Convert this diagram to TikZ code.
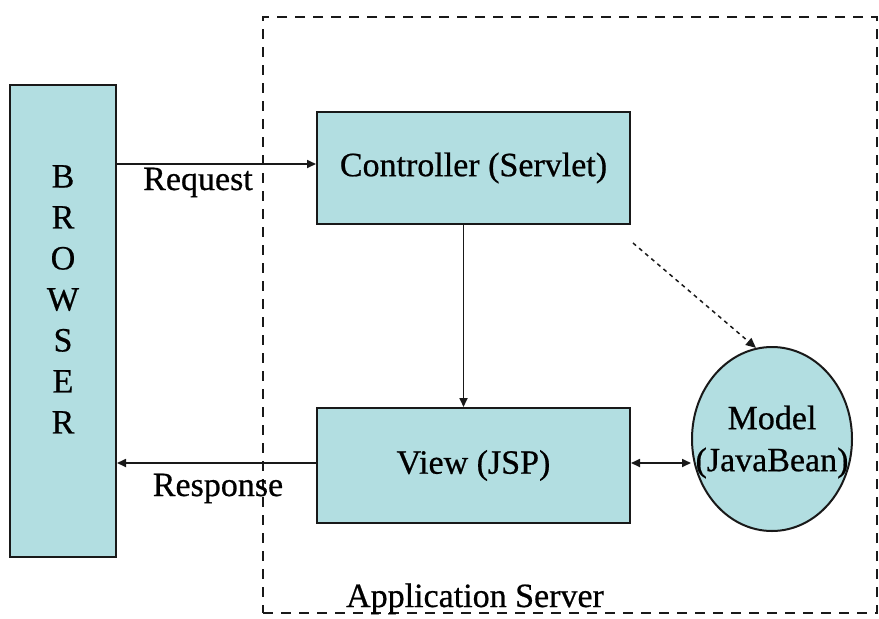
\documentclass[tikz,border=0pt]{standalone}
\usepackage{fontspec}
\setmainfont{Liberation Serif}[FakeBold=0.6]
\usetikzlibrary{arrows.meta,shapes.geometric}
\definecolor{boxfill}{RGB}{178,222,225}
\definecolor{boxline}{RGB}{25,25,25}
\tikzset{
  box/.style={draw=boxline, fill=boxfill, line width=2pt, rectangle, inner sep=0pt,
              font=\fontsize{34}{40}\selectfont},
  lbl/.style={inner sep=0pt, font=\fontsize{34}{40}\selectfont},
  arr/.style={draw=boxline, line width=1.7pt, -{Triangle[length=9pt,width=8pt]}},
  darr/.style={draw=boxline, line width=1.7pt, {Triangle[length=9pt,width=8pt]}-{Triangle[length=9pt,width=8pt]}},
  dotarr/.style={draw=boxline, line width=1.5pt, dash pattern=on 4pt off 4pt, -{Triangle[length=10pt,width=9pt]}},
  frame/.style={draw=boxline, line width=2pt, dash pattern=on 10pt off 8pt, rectangle, inner sep=0pt}
}
\begin{document}
\begin{tikzpicture}[x=1pt,y=-1pt]
\useasboundingbox (0,0) rectangle (879,619);
% application server frame
\node[frame, minimum width=614pt, minimum height=596pt] (frame) at (570,315) {};
% browser
\node[box, minimum width=106pt, minimum height=472pt] (browser) at (63,321) {};
\node[lbl, align=center, anchor=north, font=\fontsize{34}{41}\selectfont] (browsertext) at (63,165) {B\\R\\O\\W\\S\\E\\R};
% controller and view
\node[box, minimum width=313pt, minimum height=112pt] (ctrl) at (473.5,168) {Controller (Servlet)};
\node[box, minimum width=313pt, minimum height=115pt] (view) at (473.5,465.5) {View (JSP)};
% model
\node[draw=boxline, fill=boxfill, line width=2pt, ellipse, inner sep=0pt,
      minimum width=160pt, minimum height=184pt] (model) at (772,439) {};
\node[lbl, align=center, font=\fontsize{34}{42}\selectfont] (modeltext) at (772,442) {Model\\(JavaBean)};
% connectors
\coordinate (reqend) at ([yshift=4pt]ctrl.west);
\draw[arr] (browser.east |- reqend) -- (reqend);
\node[lbl, anchor=base] (reqlbl) at (198,190) {Request};
\coordinate (respstart) at ([yshift=2.5pt]view.west);
\draw[arr] (respstart) -- (respstart -| browser.east);
\node[lbl, anchor=base] (resplbl) at (218,496) {Response};
\coordinate (downstart) at ([xshift=-10pt]ctrl.south);
\draw[arr] (downstart) -- (downstart |- view.north);
\coordinate (dblstart) at ([yshift=2.5pt]view.east);
\draw[darr] (dblstart) -- (dblstart -| model.west);
\coordinate (dotstart) at (633,243);
\draw[dotarr] (dotstart) -- (model.100);
\node[lbl, anchor=base] (applbl) at (475,607) {Application Server};
\end{tikzpicture}
\end{document}
